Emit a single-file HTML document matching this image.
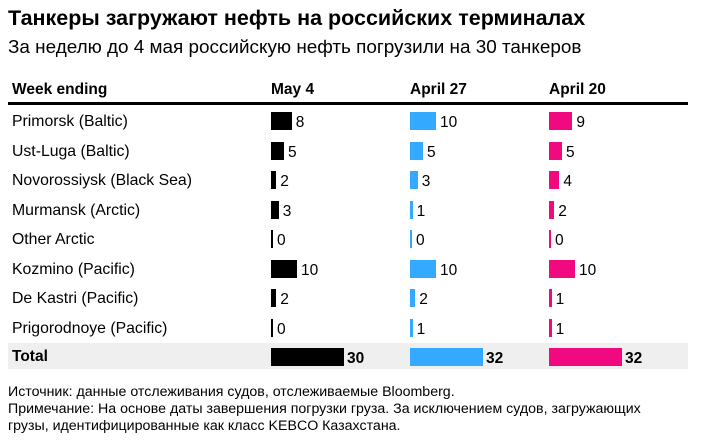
<!DOCTYPE html><html><head><meta charset="utf-8"><style>
body{margin:0;width:703px;height:441px;background:#fff;font-family:"Liberation Sans",Arial,sans-serif;color:#000;position:relative;overflow:hidden}
div{position:absolute;white-space:nowrap}
.l{font-size:15.8px;left:12px}
.b{height:18px}
.v{font-size:15.5px}
.h{font-size:15.5px;font-weight:bold;top:81px}
</style></head><body>
<div style="left:8px;top:6px;font-size:21.5px;font-weight:bold">Танкеры загружают нефть на российских терминалах</div>
<div style="left:8px;top:37px;font-size:18.9px">За неделю до 4 мая российскую нефть погрузили на 30 танкеров</div>
<div class="h" style="left:12px">Week ending</div>
<div class="h" style="left:271px">May 4</div>
<div class="h" style="left:410px">April 27</div>
<div class="h" style="left:549px">April 20</div>
<div style="left:8px;top:102px;width:680px;height:3px;background:#000"></div>
<div style="left:8px;top:343px;width:680px;height:26px;background:#efefef"></div>
<div id="rows"></div>
<script>
var names=["Primorsk (Baltic)","Ust-Luga (Baltic)","Novorossiysk (Black Sea)","Murmansk (Arctic)","Other Arctic","Kozmino (Pacific)","De Kastri (Pacific)","Prigorodnoye (Pacific)"];
var d=[[8,10,9],[5,5,5],[2,3,4],[3,1,2],[0,0,0],[10,10,10],[2,2,1],[0,1,1]];
var xs=[271,410,549],cols=["#000","#33aaff","#f0097f"];
var h="";
for(var i=0;i<8;i++){var c=121+i*29.5;
h+='<div class="l" style="top:'+(c-8)+'px">'+names[i]+'</div>';
for(var j=0;j<3;j++){var w=Math.max(2,d[i][j]*2.6);
h+='<div class="b" style="left:'+xs[j]+'px;top:'+(c-9)+'px;width:'+w+'px;background:'+cols[j]+'"></div>';
h+='<div class="v" style="left:'+(xs[j]+w+4)+'px;top:'+(c-7)+'px">'+d[i][j]+'</div>';}}
var t=[30,32,32];
h+='<div style="left:12px;top:348px;font-size:15.5px;font-weight:bold">Total</div>';
for(var j=0;j<3;j++){h+='<div class="b" style="left:'+xs[j]+'px;top:348px;width:73px;background:'+cols[j]+'"></div>';
h+='<div class="v" style="left:'+(xs[j]+76)+'px;top:350px;font-weight:bold">'+t[j]+'</div>';}
document.getElementById("rows").innerHTML=h;
</script>
<div style="left:8px;top:384px;font-size:14.2px;line-height:17px">Источник: данные отслеживания судов, отслеживаемые Bloomberg.<br>Примечание: На основе даты завершения погрузки груза. За исключением судов, загружающих<br>грузы, идентифицированные как класс KEBCO Казахстана.</div>
</body></html>
